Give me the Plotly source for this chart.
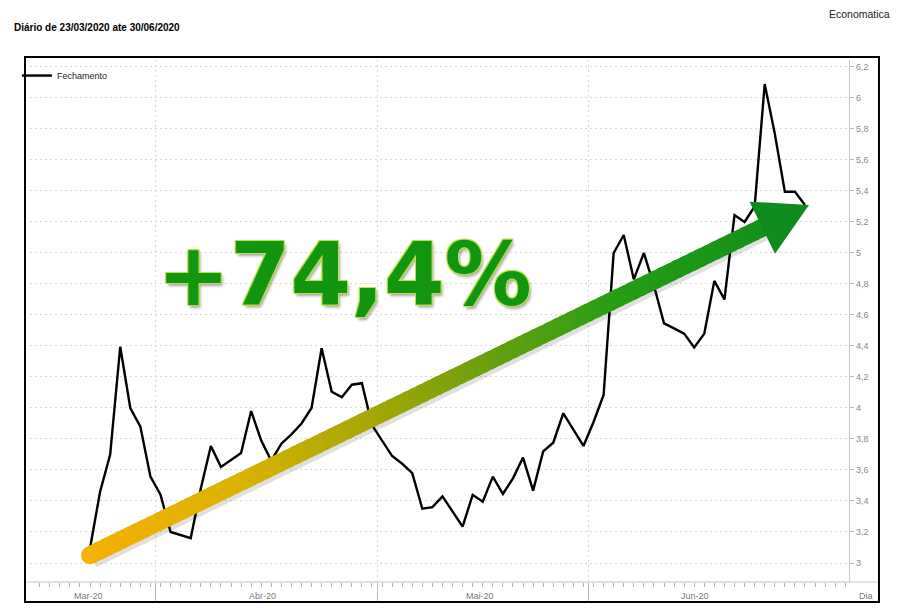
import plotly.graph_objects as go

# closing price, one value per weekday, 23/03/2020 .. 30/06/2020
fechamento = [3.095, 3.46, 3.70, 4.395, 4.00, 3.88, 3.557,
              3.44, 3.20, 3.18, 3.16, 3.48, 3.755, 3.62, 3.665, 3.71, 3.98, 3.79,
              3.66, 3.77, 3.83, 3.90, 4.00, 4.385, 4.105, 4.07, 4.15, 4.16, 3.89,
              3.79, 3.69, 3.64, 3.58, 3.35, 3.36, 3.43, 3.33, 3.235, 3.44, 3.395,
              3.557, 3.445, 3.546, 3.68, 3.467, 3.72, 3.776, 3.966, 3.86, 3.755,
              3.91, 4.084, 5.00, 5.116, 4.83, 5.00, 4.79, 4.546, 4.514, 4.48, 4.39,
              4.48, 4.82, 4.70, 5.245, 5.20, 5.30, 6.09, 5.77, 5.395, 5.395, 5.31]
dia = list(range(len(fechamento)))

month_labels = ["Mar-20", "Abr-20", "Mai-20", "Jun-20"]
month_label_pos = [-0.2, 17.1, 38.7, 60.1]
month_bounds = [6.5, 28.5, 49.5]
y_ticks = [3.0, 3.2, 3.4, 3.6, 3.8, 4.0, 4.2, 4.4, 4.6, 4.8, 5.0, 5.2, 5.4, 5.6, 5.8, 6.0, 6.2]

variacao = "+74,4%"
arrow_start = (0.0, 3.05)
arrow_tip = (71.4, 5.31)

W, H = 900, 613
L, R, T, B = 30, 51, 60, 31
x_range = [-5.96, 75.37]
y_range = [2.8774, 6.245]
sx = (W - L - R) / (x_range[1] - x_range[0])   # px per day
sy = (H - T - B) / (y_range[1] - y_range[0])   # px per unit

fig = go.Figure()
fig.add_trace(go.Scatter(x=dia, y=fechamento, mode='lines', name='Fechamento',
                         line=dict(color='black', width=2.4), hoverinfo='skip'))

# gradient arrow (orange -> green) drawn as short overlapping segments
stops = [(0.0, (243, 177, 0)), (0.2, (218, 178, 0)), (0.38, (165, 166, 5)),
         (0.55, (100, 160, 15)), (0.72, (35, 158, 20)), (1.0, (14, 138, 30))]

def grad(t):
    for (t0, c0), (t1, c1) in zip(stops, stops[1:]):
        if t <= t1:
            f = (t - t0) / (t1 - t0)
            return 'rgb(%d,%d,%d)' % tuple(round(a + (b - a) * f) for a, b in zip(c0, c1))
    return 'rgb(%d,%d,%d)' % stops[-1][1]

# work in pixels for the arrow geometry
px0, py0 = arrow_start[0] * sx, arrow_start[1] * sy
px1, py1 = arrow_tip[0] * sx, arrow_tip[1] * sy
dx, dy = px1 - px0, py1 - py0
length = (dx ** 2 + dy ** 2) ** 0.5
ux, uy = dx / length, dy / length
head_len, head_half = 52, 29
bx, by = px1 - ux * head_len, py1 - uy * head_len

def to_data(px, py):
    return px / sx, py / sy

shapes = []
# shadow
s0 = to_data(px0 + 2, py0 - 3)
s1 = to_data(bx + 2, by - 3)
shapes.append(dict(type='line', xref='x', yref='y', x0=s0[0], y0=s0[1], x1=s1[0], y1=s1[1],
                   line=dict(color='rgba(0,0,0,0.12)', width=20)))
n = 90
for k in range(n):
    t0, t1 = k / n, min(1.0, (k + 1.6) / n)
    a = to_data(px0 + (bx + ux * 4 - px0) * t0, py0 + (by + uy * 4 - py0) * t0)
    b = to_data(px0 + (bx + ux * 4 - px0) * t1, py0 + (by + uy * 4 - py0) * t1)
    shapes.append(dict(type='line', xref='x', yref='y', x0=a[0], y0=a[1], x1=b[0], y1=b[1],
                       line=dict(color=grad(k / n * 0.92), width=18)))
# round cap at the start
cr = 9
c0 = to_data(px0 - cr, py0 - cr)
c1 = to_data(px0 + cr, py0 + cr)
shapes.append(dict(type='circle', xref='x', yref='y', x0=c0[0], y0=c0[1], x1=c1[0], y1=c1[1],
                   fillcolor=grad(0), line=dict(width=0)))
# arrow head
nx, ny = -uy, ux
v1 = to_data(bx + nx * head_half, by + ny * head_half)
v2 = to_data(bx - nx * head_half, by - ny * head_half)
v3 = to_data(px1, py1)
shapes.append(dict(type='path', xref='x', yref='y',
                   path='M %f,%f L %f,%f L %f,%f Z' % (v1[0], v1[1], v3[0], v3[1], v2[0], v2[1]),
                   fillcolor='rgb(14,138,30)', line=dict(width=0)))

# frame and extended x axis line
shapes.append(dict(type='line', xref='paper', yref='paper', x0=-0.006, x1=1.0366, y0=0, y1=0,
                   line=dict(color='#c8c8c8', width=1.2), layer='below'))
shapes.append(dict(type='rect', xref='paper', yref='paper', x0=-0.0061, x1=1.0366,
                   y0=-0.0383, y1=1.0057, line=dict(color='black', width=2)))

small = dict(size=9, color='#777', family='Liberation Sans')
annotations = []
for lab, pos in zip(month_labels, month_label_pos):
    annotations.append(dict(text=lab, x=pos, xref='x', y=-0.027, yref='paper', showarrow=False,
                            xanchor='center', yanchor='middle', font=small))
annotations.append(dict(text='Dia', x=1.0205, xref='paper', y=-0.027, yref='paper', showarrow=False,
                        xanchor='center', yanchor='middle', font=small))
annotations.append(dict(text='<b>Diário de 23/03/2020 ate 30/06/2020</b>', x=-0.022, xanchor='left',
                        xref='paper', y=1.063, yref='paper', yanchor='middle', showarrow=False,
                        font=dict(size=10, color='black', family='Liberation Sans')))
annotations.append(dict(text='Economatica', x=1.0525, xanchor='right', xref='paper', y=1.088,
                        yref='paper', yanchor='middle', showarrow=False,
                        font=dict(size=10.5, color='#222', family='Liberation Sans')))
outline = '#b8e04a'
annotations.append(dict(text='<b>%s</b>' % variacao, x=0.3846, y=0.588, xref='paper', yref='paper',
                        xanchor='center', yanchor='middle', showarrow=False,
                        font=dict(size=87, color='#12960f', family='DejaVu Sans',
                                  shadow='-1px -1px 0 %s, 1px -1px 0 %s, -1px 1px 0 %s, 1px 1px 0 %s, '
                                         '2px 3px 3px rgba(0,0,0,0.35)' % (outline, outline, outline, outline))))

fig.update_layout(
    width=W, height=H,
    margin=dict(l=L, r=R, t=T, b=B),
    paper_bgcolor='white', plot_bgcolor='white',
    separators=',.',
    showlegend=True,
    legend=dict(x=-0.016, y=0.998, xanchor='left', yanchor='top', bgcolor='rgba(0,0,0,0)',
                font=dict(size=9, color='#222', family='Liberation Sans'), itemwidth=30),
    shapes=shapes,
    annotations=annotations,
    xaxis=dict(range=x_range, tickmode='array', tickvals=month_bounds, showticklabels=False,
               ticks='outside', ticklen=20, tickcolor='#bbb', tickwidth=1,
               showgrid=True, gridcolor='#d8d8d8', griddash='2px,3px', zeroline=False, showline=False,
               minor=dict(tickmode='linear', tick0=0, dtick=1, ticks='outside', ticklen=4,
                          tickcolor='#b4b4b4', showgrid=False)),
    yaxis=dict(range=y_range, side='right', tickmode='array', tickvals=y_ticks,
               ticks='outside', ticklen=4, tickcolor='#bbb',
               tickfont=dict(size=9, color='#888', family='Liberation Sans'),
               showgrid=True, gridcolor='#d8d8d8', griddash='2px,3px', zeroline=False,
               showline=True, linecolor='#c8c8c8', linewidth=1.2),
)

fig.write_html("out.html", config={'displayModeBar': False},
               post_script="document.body.style.margin='0';")
